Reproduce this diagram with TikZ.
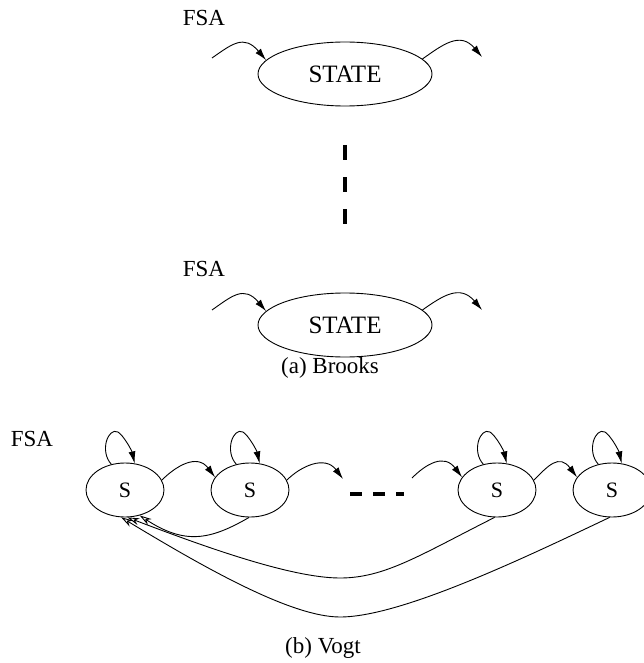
\documentclass[tikz,border=0pt]{standalone}
\usepackage{fontspec}
\setmainfont{Liberation Serif}
\usetikzlibrary{arrows.meta,shapes.geometric}
\begin{document}
\begin{tikzpicture}[x=1pt,y=-1pt,line width=0.9pt,
  st/.style={draw, ellipse, minimum width=174pt, minimum height=64pt, inner sep=0pt, font=\fontsize{25}{30}\selectfont},
  sn/.style={draw, ellipse, minimum width=78pt, minimum height=54pt, inner sep=0pt, font=\fontsize{22}{26}\selectfont},
  lbl/.style={font=\fontsize{23}{28}\selectfont},
  fwd/.style={-{Latex[length=12pt,width=7pt]}},
  back/.style={-{Stealth[open,length=12pt,width=7pt]}},
  vdash/.style={line width=4.5pt, dash pattern=on 15pt off 17pt},
  hdash/.style={line width=4pt, dash pattern=on 12pt off 11pt}]
\useasboundingbox (0,0) rectangle (643,663);

% (a) Brooks
\node[lbl] (fsa1) at (204,18) {FSA};
\node[st] (e1) at (345,74) {STATE};
\coordinate (ain) at (212,58);
\coordinate (aout) at (482,57);
\draw[fwd] (ain) .. controls +(20,-14) and +(-22,-26) .. (e1.170);
\draw[fwd] (e1.11) .. controls +(20,-14) and +(-22,-26) .. (aout);

\coordinate (v1) at (345,145);
\coordinate (v2) at (345,224);
\draw[vdash] (v1) -- (v2);

\node[lbl] (fsa2) at (204,269) {FSA};
\node[st] (e2) at (345,325) {STATE};
\coordinate (bin) at (212,310);
\coordinate (bout) at (482,310);
\draw[fwd] (bin) .. controls +(20,-14) and +(-22,-26) .. (e2.170);
\draw[fwd] (e2.11) .. controls +(20,-14) and +(-22,-26) .. (bout);

\node[lbl] (capa) at (330,368) {(a) Brooks};

% (b) Vogt
\node[lbl] (fsa3) at (32,439) {FSA};
\node[sn] (s1) at (125,490) {S};
\node[sn] (s2) at (250,490) {S};
\node[sn] (s3) at (497,490) {S};
\node[sn] (s4) at (612,490) {S};

\foreach \n in {s1,s2,s3,s4}
  \draw[fwd] (\n.118) .. controls +(-12,-13) and +(-10,-5) .. ([shift={(-7,-58)}]\n.center)
     .. controls +(6,4) and +(-3,-13) .. (\n.70);

\coordinate (d1) at (343,479);
\coordinate (d2) at (412,478);
\coordinate (h1) at (350,494);
\coordinate (h2) at (404,494);
\draw[hdash] (h1) -- (h2);

\draw[fwd] (s1.15) .. controls +(14,-14) and +(-18,-24) .. (s2.160);
\draw[fwd] (s2.15) .. controls +(14,-14) and +(-18,-24) .. (d1);
\draw[fwd] (d2) .. controls +(14,-14) and +(-18,-24) .. (s3.160);
\draw[fwd] (s3.15) .. controls +(14,-14) and +(-18,-24) .. (s4.160);

\draw[back] (s2.268) .. controls (210,540) and (185,545) .. (s1.300);
\draw[back] (s3.265) .. controls (420,555) and (385,578) .. (340,578)
   .. controls (290,578) and (200,545) .. (s1.275);
\draw[back] (s4.265) .. controls (520,560) and (400,617) .. (340,617)
   .. controls (290,617) and (200,565) .. (s1.262);

\node[lbl] (capb) at (323,648) {(b) Vogt};
\end{tikzpicture}
\end{document}
